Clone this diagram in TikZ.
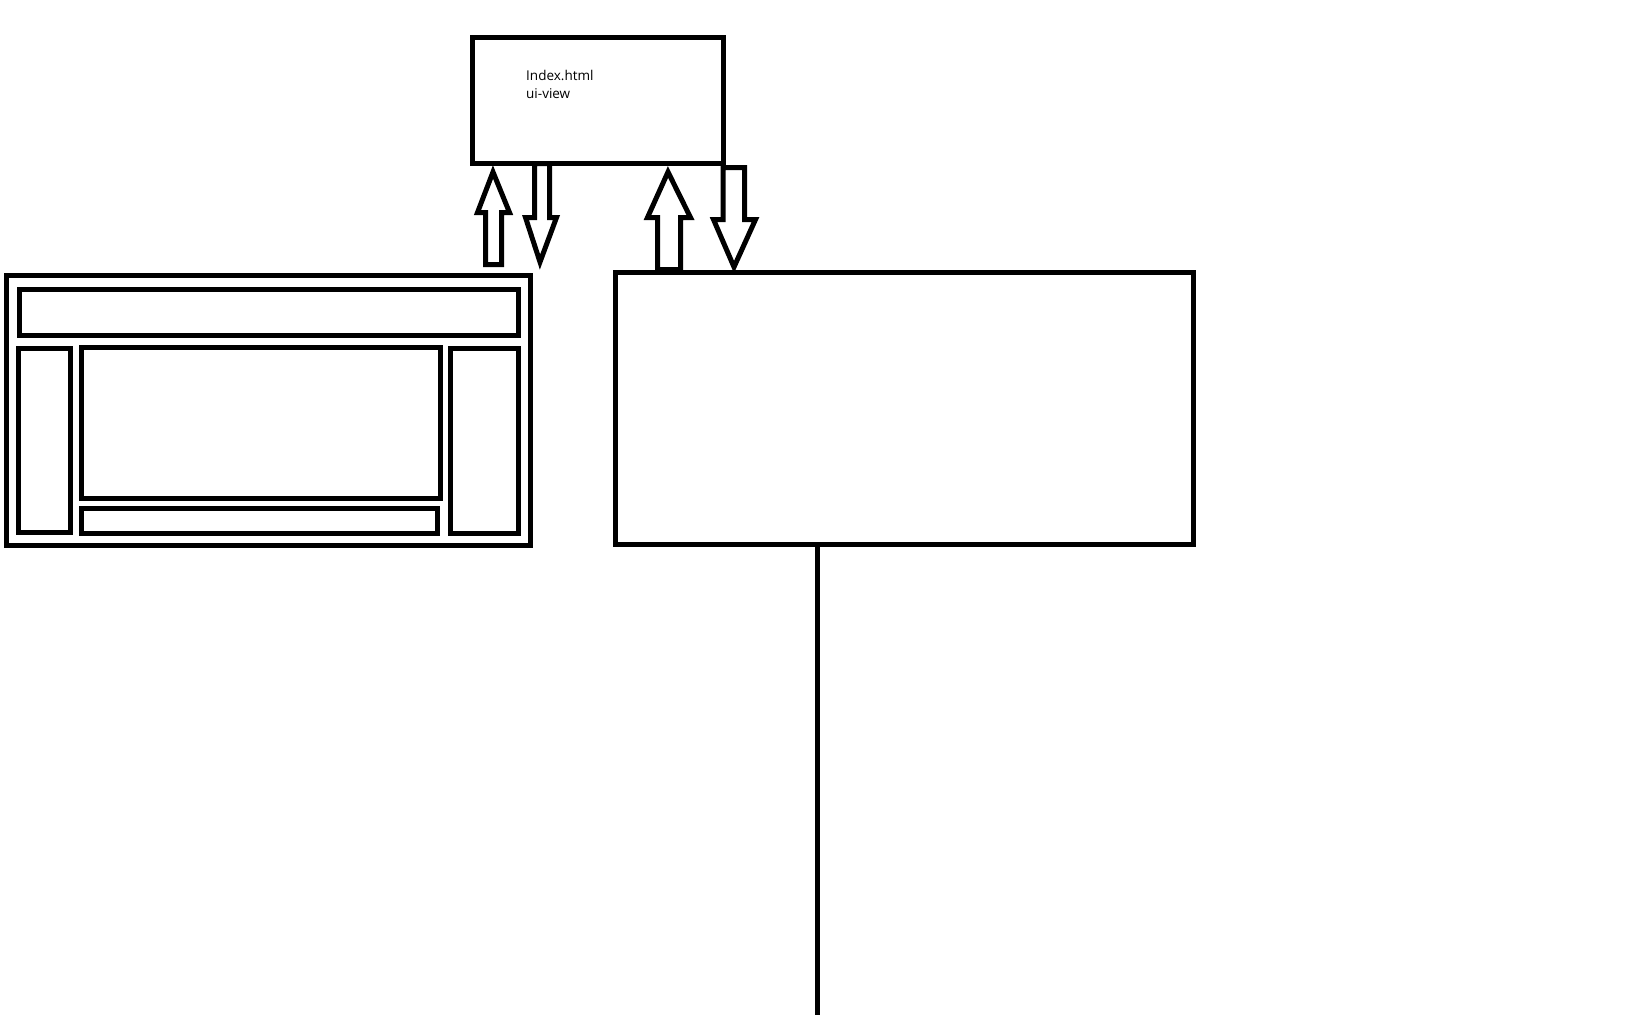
\documentclass[tikz,border=0pt]{standalone}
\usepackage{fontspec}
\setmainfont{Open Sans}
\begin{document}
\begin{tikzpicture}[x=1pt,y=-1pt,
  box/.style={draw=black, line width=5pt, rectangle, inner sep=0pt, outer sep=0pt, fill=none},
  fatarrow/.style={draw=black, line width=5pt, line join=miter},
  lbl/.style={anchor=base west, inner sep=0pt, font=\fontsize{13.5}{18}\selectfont}]
\useasboundingbox[fill=white] (0,0) rectangle (1628,1015);

% top box: index.html
\node[box, minimum width=251pt, minimum height=126pt] (top) at (597.5,100.5) {};
\node[lbl] (t1) at (526,80) {Index.html};
\node[lbl] (t2) at (526,98) {ui-view};

% left layout box
\node[box, minimum width=523.7pt, minimum height=270pt] (layout) at (268.15,410.7) {};
\node[box, minimum width=499.2pt, minimum height=45.3pt] (header) at (268.8,312.35) {};
\node[box, minimum width=51.8pt, minimum height=184pt] (leftcol) at (44.4,440.5) {};
\node[box, minimum width=358.7pt, minimum height=150.4pt] (main) at (260.85,423) {};
\node[box, minimum width=356pt, minimum height=24.7pt] (footer) at (259.5,520.65) {};
\node[box, minimum width=67.6pt, minimum height=185.3pt] (rightcol) at (484.6,440.65) {};

% right big box
\node[box, minimum width=578pt, minimum height=272.5pt] (big) at (904.5,408.25) {};
\coordinate (lineend) at (817.5,1015);
\draw[line width=5pt] (817.5,544.5) -- (lineend);

% arrows between top box and left layout
\draw[fatarrow] (493,172) -- (509.5,212.5) -- (501.5,212.5) -- (501.5,264.5)
  -- (485.5,264.5) -- (485.5,212.5) -- (477.5,212.5) -- cycle;
\draw[fatarrow] (534.5,163.5) -- (549.5,163.5) -- (549.5,217.5) -- (556.5,217.5)
  -- (540,262) -- (525.5,217.5) -- (534.5,217.5) -- cycle;

% arrows between top box and big box
\draw[fatarrow] (668,172) -- (690.5,217.5) -- (680.5,217.5) -- (680.5,269.5)
  -- (657.5,269.5) -- (657.5,217.5) -- (647.5,217.5) -- cycle;
\draw[fatarrow] (723,167.5) -- (744.5,167.5) -- (744.5,219.5) -- (755.5,219.5)
  -- (734,267) -- (713.5,219.5) -- (723,219.5) -- cycle;
\draw[line width=5pt] (723,160) -- (723,170);
\end{tikzpicture}
\end{document}
